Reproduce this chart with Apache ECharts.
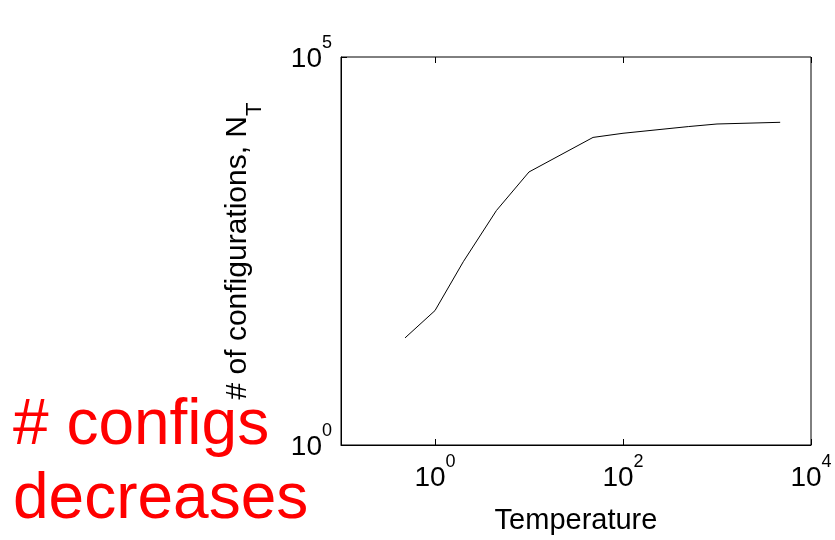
<!DOCTYPE html>
<html>
<head>
<meta charset="utf-8">
<script src="https://cdn.jsdelivr.net/npm/echarts@6/dist/echarts.min.js"></script>
<style>
html,body{margin:0;padding:0;background:#fff;}
#chart{width:835px;height:540px;}
</style>
</head>
<body>
<div id="chart"></div>
<script>
// Data
var temperatures = [0.48, 1, 2, 4.5, 10, 48, 100, 500, 1000, 4700];
var configCounts = [24, 54, 230, 1050, 3300, 9200, 10400, 12700, 13700, 14400];
var xTickValues = [1, 100, 10000];
var yTickValues = [1, 100000];
var xAxisTitle = 'Temperature';
var yAxisTitle = '# of configurations, N';
var yAxisTitleSub = 'T';
var annotationLines = ['# configs', 'decreases'];

var FONT = 'Liberation Sans, Arial, sans-serif';

function expLabel(v) {
  var e = Math.round(Math.log10(v));
  return '{a|10}{b|' + e + '}';
}
var expRich = {
  a: { fontFamily: FONT, fontSize: 28, lineHeight: 39, verticalAlign: 'bottom', color: '#000' },
  b: { fontFamily: FONT, fontSize: 18, lineHeight: 18, verticalAlign: 'top', color: '#000' }
};

var chart = echarts.init(document.getElementById('chart'));
chart.setOption({
  backgroundColor: '#fff',
  animation: false,
  grid: {
    left: 341, right: 24, top: 57, bottom: 91,
    show: true, borderColor: '#000', borderWidth: 1, backgroundColor: 'transparent'
  },
  xAxis: [{
    type: 'log', logBase: 10, min: 0.1, max: 10000,
    name: xAxisTitle, nameLocation: 'middle', nameGap: 61,
    nameTextStyle: { fontFamily: FONT, fontSize: 29, color: '#000' },
    axisLine: { show: true, lineStyle: { color: '#000', width: 1 } },
    axisTick: { show: true, inside: true, length: 6, customValues: xTickValues, lineStyle: { color: '#000' } },
    axisLabel: { customValues: xTickValues, margin: 8, color: '#000', formatter: expLabel, rich: expRich },
    splitLine: { show: false }
  }, {
    type: 'log', logBase: 10, min: 0.1, max: 10000, position: 'top',
    axisLine: { show: false },
    axisTick: { show: true, inside: true, length: 6, customValues: xTickValues, lineStyle: { color: '#000' } },
    axisLabel: { show: false },
    splitLine: { show: false }
  }],
  yAxis: {
    type: 'log', logBase: 10, min: 1, max: 100000,
    name: '{m|' + yAxisTitle + '}{s|' + yAxisTitleSub + '}',
    nameLocation: 'middle', nameGap: 75, nameRotate: 90,
    nameTextStyle: {
      rich: {
        m: { fontFamily: FONT, fontSize: 30, color: '#000', lineHeight: 30, verticalAlign: 'top' },
        s: { fontFamily: FONT, fontSize: 22, color: '#000', lineHeight: 43, verticalAlign: 'bottom' }
      }
    },
    axisLine: { show: true, lineStyle: { color: '#000', width: 1 } },
    axisTick: { show: true, inside: true, length: 6, customValues: yTickValues, lineStyle: { color: '#000' } },
    axisLabel: { customValues: yTickValues, margin: 9, padding: [0, 0, 6, 0], color: '#000', formatter: expLabel, rich: expRich },
    splitLine: { show: false }
  },
  series: [{
    type: 'line',
    data: temperatures.map(function (t, i) { return [t, configCounts[i]]; }),
    showSymbol: false,
    symbol: 'none',
    lineStyle: { color: '#000', width: 1 },
    itemStyle: { color: '#000' }
  }],
  graphic: [
    { type: 'text', left: 13, top: 394, style: { text: annotationLines[0], fontFamily: FONT, fontSize: 64, fill: '#ff0000' } },
    { type: 'text', left: 13, top: 468, style: { text: annotationLines[1], fontFamily: FONT, fontSize: 64, fill: '#ff0000' } }
  ]
});
</script>
</body>
</html>
